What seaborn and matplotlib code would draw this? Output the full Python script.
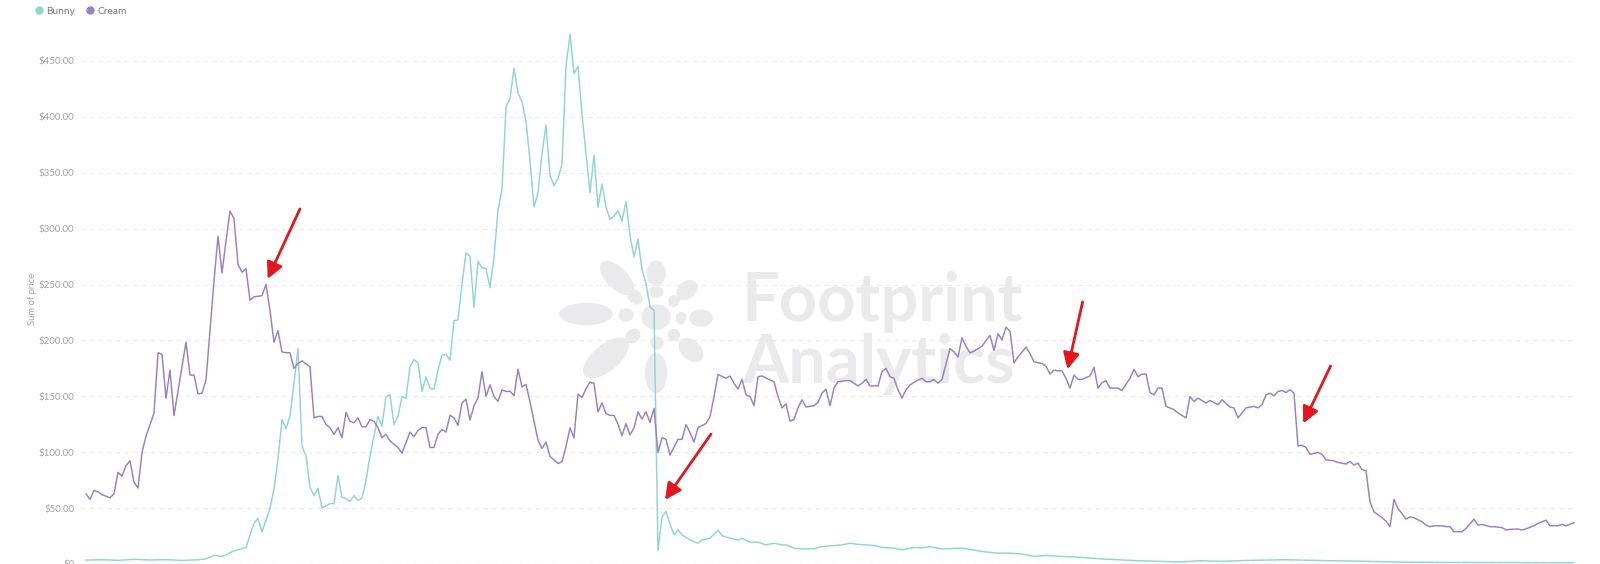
import numpy as np
import pandas as pd
import matplotlib
matplotlib.use("Agg")
import matplotlib.pyplot as plt
import seaborn as sns
from matplotlib.lines import Line2D
from matplotlib.patches import Ellipse

### données (jour depuis le début, prix en $)
cream_day = [0, 1, 2, 3, 4, 6, 7, 8, 9, 10, 11, 12, 13, 14, 15, 16, 17, 18, 19, 20,
             21, 22, 23, 24, 25, 26, 27, 28, 29, 30, 31, 32, 33, 34, 35, 36, 37, 38, 39, 40,
             41, 42, 44, 45, 46, 47, 48, 49, 50, 51, 52, 53, 54, 56, 57, 58, 59, 60, 61, 62,
             63, 64, 65, 66, 67, 68, 69, 70, 71, 72, 73, 74, 75, 76, 78, 79, 80, 81, 82, 83,
             84, 85, 86, 87, 88, 89, 90, 91, 92, 93, 94, 95, 96, 97, 98, 99, 100, 101, 102, 103,
             104, 105, 106, 107, 108, 109, 110, 111, 112, 113, 114, 115, 116, 118, 119, 120, 121, 122, 123, 124,
             125, 126, 127, 128, 129, 130, 131, 132, 133, 134, 135, 136, 137, 138, 139, 140, 141, 142, 143, 144,
             145, 146, 148, 149, 150, 151, 152, 153, 155, 156, 157, 158, 160, 161, 162, 163, 164, 165, 166, 167,
             168, 169, 171, 172, 173, 174, 175, 176, 177, 178, 179, 180, 182, 183, 184, 185, 186, 187, 188, 190,
             191, 192, 193, 194, 195, 196, 197, 198, 199, 200, 201, 202, 203, 204, 205, 206, 208, 209, 210, 211,
             212, 213, 214, 216, 217, 218, 219, 220, 221, 222, 224, 225, 226, 227, 228, 229, 230, 231, 232, 233,
             234, 235, 236, 237, 239, 240, 241, 242, 243, 244, 245, 246, 247, 248, 249, 251, 252, 253, 254, 255,
             256, 258, 259, 261, 262, 263, 264, 265, 266, 267, 268, 269, 270, 272, 273, 275, 276, 277, 278, 280,
             281, 283, 284, 286, 287, 288, 290, 292, 293, 294, 295, 296, 297, 298, 299, 300, 301, 302, 303, 304,
             305, 306, 308, 309, 310, 312, 313, 315, 316, 317, 318, 319, 320, 321, 322, 324, 325, 326, 327, 328,
             329, 330, 331, 332, 334, 335, 336, 337, 339, 340, 341, 342, 344, 345, 347, 348, 349, 351, 352, 354,
             355, 356, 358, 359, 360, 362, 363, 365, 366, 368, 369, 370, 372]
cream_price = [62.8, 57.8, 65.8, 64.6, 62.0, 59.3, 62.8, 82.0, 78.5, 87.9, 92.3, 73.2, 68.0, 99.7, 114.4, 124.8, 135.0, 189.0, 187.6, 148.4,
               173.5, 132.8, 154.3, 176.4, 198.5, 169.0, 169.0, 152.2, 152.8, 164.6, 208.9, 253.0, 293.0, 260.5, 288.5, 315.7, 309.0, 268.0, 261.0, 264.3,
               236.0, 239.0, 240.0, 250.0, 226.6, 198.5, 208.9, 189.7, 189.0, 189.0, 175.0, 179.4, 181.7, 176.4, 130.7, 132.0, 132.0, 124.8, 121.9, 116.0,
               121.9, 113.0, 135.7, 127.7, 126.3, 130.7, 122.7, 122.7, 129.2, 127.7, 121.9, 113.0, 116.0, 110.0, 104.2, 99.1, 108.6, 118.0, 113.9, 119.5,
               121.9, 121.9, 104.2, 104.2, 116.0, 120.4, 118.0, 133.0, 130.7, 123.9, 144.0, 147.5, 128.6, 141.6, 148.4, 172.0, 150.0, 160.2, 149.8, 145.4,
               155.8, 154.3, 154.5, 150.5, 174.3, 158.4, 160.7, 145.0, 128.0, 110.6, 103.4, 109.0, 96.3, 89.9, 91.5, 105.0, 121.8, 113.0, 152.0, 148.9,
               156.8, 162.6, 161.6, 136.1, 144.1, 134.5, 132.9, 133.0, 125.0, 114.8, 125.7, 115.4, 121.8, 136.1, 129.7, 136.1, 126.6, 139.3, 99.7, 113.0,
               111.5, 97.4, 111.5, 111.5, 124.8, 117.4, 109.1, 121.9, 125.7, 131.6, 149.8, 169.6, 166.1, 168.2, 161.7, 156.4, 165.2, 151.3, 149.8, 141.6,
               167.5, 168.2, 164.6, 163.1, 149.8, 139.6, 143.4, 127.7, 129.2, 139.6, 146.9, 140.4, 141.6, 144.5, 152.8, 156.4, 141.6, 157.3, 163.1, 164.0,
               164.0, 161.7, 159.3, 161.7, 165.2, 159.3, 159.3, 159.3, 172.0, 175.0, 167.5, 166.1, 155.8, 148.4, 155.8, 160.2, 164.6, 166.1, 163.1, 163.1,
               165.2, 161.7, 165.2, 192.7, 189.7, 185.2, 202.4, 194.7, 188.8, 190.5, 194.7, 200.0, 204.4, 191.2, 205.9, 200.6, 211.8, 208.2, 179.9, 185.2,
               189.5, 194.1, 188.2, 180.8, 179.4, 177.0, 169.9, 173.5, 172.8, 172.8, 166.1, 157.3, 169.0, 165.2, 165.2, 168.2, 175.9, 157.3, 162.2, 164.0,
               157.3, 157.3, 155.2, 166.1, 174.1, 167.5, 169.9, 169.9, 153.4, 151.3, 157.3, 157.3, 141.0, 138.1, 135.1, 130.7, 149.8, 145.4, 148.4, 144.0,
               146.3, 142.5, 146.9, 140.4, 139.6, 130.7, 139.6, 141.0, 139.6, 142.5, 151.3, 152.8, 150.5, 154.3, 155.2, 153.4, 155.8, 152.8, 105.6, 106.2,
               104.2, 98.2, 99.7, 98.2, 93.2, 92.3, 90.9, 89.4, 91.8, 88.5, 90.3, 84.3, 83.5, 55.5, 46.6, 41.6, 38.3, 33.4, 57.8, 49.6,
               45.1, 40.1, 42.2, 41.3, 37.8, 34.8, 33.4, 34.2, 34.2, 33.4, 33.4, 28.9, 28.9, 31.9, 40.1, 34.8, 35.4, 33.4, 33.4, 32.5,
               30.4, 31.0, 31.3, 30.4, 31.5, 34.2, 36.3, 39.2, 34.2, 34.2, 35.4, 34.2, 36.9]

bunny_day = [0, 4, 8, 12, 16, 20, 24, 28, 30, 32, 34, 35, 37, 38, 40, 41, 42, 43, 44, 45,
             46, 47, 48, 49, 50, 51, 52, 53, 54, 55, 56, 57, 58, 59, 60, 61, 62, 63, 64, 65,
             66, 67, 68, 69, 70, 71, 72, 73, 74, 75, 76, 77, 78, 79, 80, 81, 82, 83, 84, 85,
             86, 87, 88, 89, 90, 91, 92, 93, 94, 95, 96, 97, 98, 99, 100, 101, 102, 103, 104, 105,
             106, 107, 108, 109, 110, 111, 112, 113, 114, 115, 116, 117, 118, 119, 120, 121, 122, 123, 124, 125,
             126, 127, 128, 129, 130, 131, 132, 133, 134, 135, 136, 137, 138, 139, 140, 141, 142, 143, 144, 145,
             146, 147, 148, 149, 151, 153, 154, 156, 158, 159, 161, 163, 164, 166, 168, 170, 172, 174, 175, 177,
             179, 182, 184, 186, 189, 191, 193, 195, 197, 199, 202, 204, 207, 209, 211, 214, 219, 224, 228, 231,
             234, 237, 240, 244, 249, 253, 258, 263, 268, 274, 278, 284, 290, 300, 310, 320, 330, 340, 350, 360,
             372]
bunny_price = [3.5, 3.8, 3.3, 4.2, 3.6, 3.9, 3.2, 3.8, 4.6, 7.7, 6.8, 8.2, 11.8, 12.7, 14.8, 26.0, 36.3, 40.7, 28.9, 39.2,
               49.6, 67.3, 93.8, 129.2, 121.0, 132.1, 161.7, 192.7, 105.6, 96.7, 68.8, 61.3, 67.9, 50.2, 51.9, 54.0, 54.0, 79.0, 59.9, 58.4,
               56.0, 61.3, 56.9, 59.0, 74.6, 96.7, 114.4, 132.1, 123.3, 149.8, 151.3, 124.8, 132.1, 149.8, 148.4, 176.4, 182.9, 179.9, 154.3, 167.5,
               157.3, 156.4, 173.5, 186.7, 187.6, 182.3, 217.7, 218.3, 250.2, 278.2, 275.2, 229.5, 270.8, 264.9, 264.3, 247.2, 274.0, 316.6, 335.0, 408.5,
               416.5, 443.6, 421.3, 413.3, 395.8, 360.7, 319.3, 332.1, 367.1, 392.6, 348.0, 338.4, 344.8, 357.5, 445.2, 473.8, 438.8, 445.2, 402.1, 367.1,
               332.1, 365.5, 319.3, 340.0, 319.3, 308.2, 311.3, 316.1, 306.6, 324.1, 293.8, 274.7, 290.6, 263.5, 250.8, 230.1, 226.9, 11.9, 42.1, 46.9,
               35.8, 26.2, 30.4, 26.0, 21.5, 18.6, 21.5, 23.0, 30.4, 25.4, 23.0, 21.5, 23.0, 19.5, 19.5, 17.1, 18.6, 17.1, 17.1, 14.2,
               13.5, 13.5, 15.7, 16.2, 17.1, 18.6, 17.5, 17.1, 16.5, 14.8, 14.2, 12.7, 14.8, 14.5, 15.5, 13.5, 14.2, 11.2, 9.7, 9.7,
               8.9, 6.8, 7.7, 6.8, 5.9, 4.7, 3.8, 2.9, 2.4, 1.8, 2.9, 2.4, 3.2, 3.8, 3.0, 2.4, 1.6, 1.4, 1.3, 1.2,
               1.1]

tokens = ["Bunny", "Cream"]
token_colors = ["#8fd6cf", "#9a7fc1"]
y_ticks = [0, 50, 100, 150, 200, 250, 300, 350, 400, 450]

# flèches rouges : (jour, prix visé) et décalage de la queue en points
arrow_targets = [(45.4, 255.0), (144.75, 57.4), (245.4, 174.2), (304.3, 125.8)]
arrow_tails = [(23.3, 50.4), (33.1, 47.3), (10.8, 48.5), (19.7, 41.3)]

df = pd.concat([
    pd.DataFrame({"day": bunny_day, "price": bunny_price, "token": "Bunny"}),
    pd.DataFrame({"day": cream_day, "price": cream_price, "token": "Cream"}),
], ignore_index=True)
palette = dict(zip(tokens, token_colors))

sns.set_theme(style="white")
plt.rcParams["font.family"] = ["Lato", "DejaVu Sans"]

fig = plt.figure(figsize=(16, 5.64), dpi=100, facecolor="white")
ax = fig.add_axes([80 / 1600, 0, 1496 / 1600, 1])
ax.set_facecolor("none")

sns.lineplot(data=df, x="day", y="price", hue="token", hue_order=tokens,
             palette=palette, estimator=None, sort=True, linewidth=1.05,
             legend=False, ax=ax, zorder=3)

ax.set_xlim(-1.5, 372.5)
ax.set_ylim(1.87, 504.5)
ax.set_yticks(y_ticks)
ax.set_yticklabels([f"${v:.2f}" if v else "$0" for v in y_ticks])
ax.set_xticks([])
ax.tick_params(axis="y", length=0, pad=4, labelsize=7, labelcolor="#a3a3a3")
ax.set_xlabel("")
ax.set_ylabel("Sum of price", fontsize=6.8, color="#a3a3a3")
ax.yaxis.set_label_coords(-43 / 1496, 0.47)
ax.yaxis.grid(True, linestyle=(0, (4, 3)), color="#ececec", linewidth=0.9)
for s in ax.spines.values():
    s.set_visible(False)

# filigrane Footprint Analytics
def px(x, y):
    return (x / 100, (564 - y) / 100)

petals = [(586, 314, 52, 21, 0), (617, 278, 42, 20, 135), (656, 273, 24, 18, 90),
          (687, 290, 22, 16, 40), (701, 318, 22, 16, 0), (691, 350, 27, 18, -43),
          (656, 373, 39, 21, 90), (606, 358, 54, 25, 40), (656, 317, 28, 24, 0),
          (635, 297, 15, 12, 135), (656, 292, 14, 10, 0), (674, 301, 11, 10, 45),
          (626, 315, 14, 12, 0), (681, 318, 9, 11, 0), (633, 336, 15, 12, 45),
          (657, 343, 12, 12, 0), (674, 335, 11, 11, -45)]
wm_color = "#eaeaec"
for cx, cy, w, h, a in petals:
    ax.add_artist(Ellipse(px(cx, cy), w / 100, h / 100, angle=a,
                          transform=fig.dpi_scale_trans, color=wm_color,
                          zorder=1, clip_on=False))
ax.text(742 / 1600, (564 - 321) / 564, "Footprint", transform=fig.transFigure,
        fontsize=48, fontweight="bold", color=wm_color, va="baseline", zorder=1)
ax.text(742 / 1600, (564 - 383) / 564, "Analytics", transform=fig.transFigure,
        fontsize=48, fontweight="bold", color=wm_color, va="baseline", zorder=1)

# flèches
for (d, p), off in zip(arrow_targets, arrow_tails):
    ax.annotate("", xy=(d, p), xytext=off, textcoords="offset points",
                arrowprops=dict(arrowstyle="-|>,head_length=0.7,head_width=0.35",
                                color="#e3161e", lw=2, mutation_scale=14,
                                shrinkA=0, shrinkB=0), zorder=5)

# légende
handles = [Line2D([], [], marker="o", linestyle="", markersize=6, color=c,
                  markeredgewidth=0) for c in token_colors]
fig.legend(handles, tokens, loc="upper left", bbox_to_anchor=(24 / 1600, 1.004),
           ncol=2, frameon=False, fontsize=7.3, labelcolor="#777777",
           handletextpad=0.1, columnspacing=0.9, handlelength=1.2)

fig.savefig("out.png", dpi=100, facecolor="white")
